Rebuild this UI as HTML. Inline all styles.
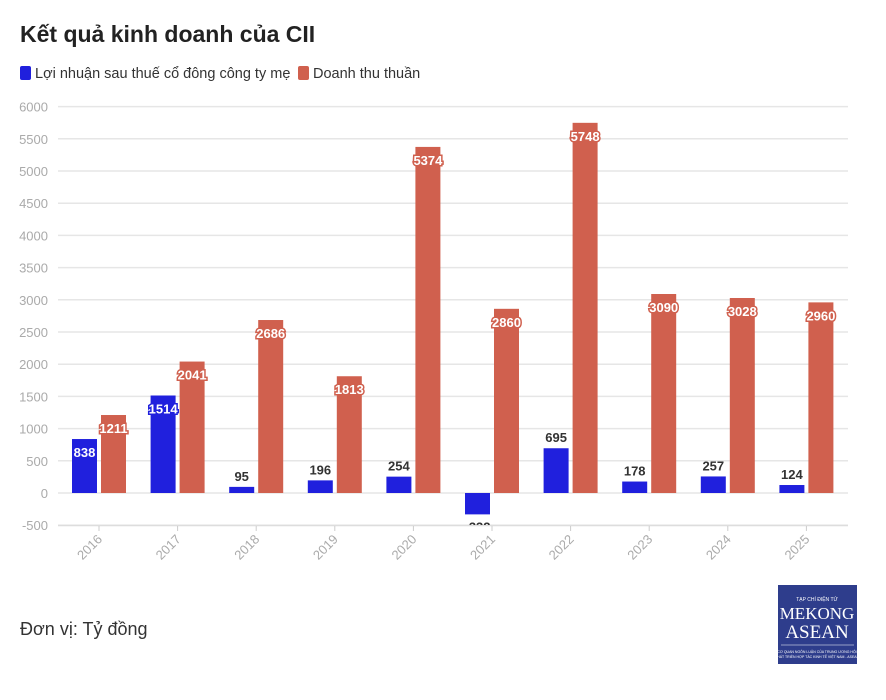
<!DOCTYPE html>
<html><head><meta charset="utf-8"><style>
body{margin:0;background:#fff;width:886px;height:695px;overflow:hidden;font-family:"Liberation Sans","Noto Sans CJK SC",sans-serif;}
svg text{font-family:"Liberation Sans","Noto Sans CJK SC",sans-serif;}
svg text.serif{font-family:"Liberation Serif",serif;}
</style></head><body>
<svg width="886" height="695">
<text x="20" y="42" font-size="23" font-weight="bold" fill="#222">Kết quả kinh doanh của CII</text>
<g>
<rect x="20" y="66" width="11" height="14" rx="2" fill="#2020dd"/>
<text x="35" y="78" font-size="14.5" fill="#333">Lợi nhuận sau thuế cổ đông công ty mẹ</text>
<rect x="298" y="66" width="11" height="14" rx="2" fill="#d0604e"/>
<text x="313" y="78" font-size="14.5" fill="#333">Doanh thu thuần</text>
</g>
<defs><clipPath id="pc"><rect x="58" y="95" width="800" height="430"/></clipPath></defs>
<g id="grid"></g>
<g id="bars" clip-path="url(#pc)"></g>
<g id="labels" clip-path="url(#pc)"></g>
<g id="xl"></g>
<text x="20" y="635" font-size="18" fill="#333">Đơn vị: Tỷ đồng</text>
<g>
<rect x="778" y="585" width="79" height="79" fill="#2e3d8c"/>
<text x="817" y="601" font-size="5" fill="#fff" text-anchor="middle">TẠP CHÍ ĐIỆN TỬ</text>
<text class="serif" x="817" y="619" font-size="17" fill="#fff" text-anchor="middle">MEKONG</text>
<text class="serif" x="817" y="638" font-size="19" fill="#fff" text-anchor="middle">ASEAN</text>
<line x1="781" y1="645" x2="854" y2="645" stroke="#fff" stroke-width="0.6"/>
<text x="817" y="653" font-size="3.5" fill="#fff" text-anchor="middle">CƠ QUAN NGÔN LUẬN CỦA TRUNG ƯƠNG HỘI</text>
<text x="817" y="658" font-size="3.5" fill="#fff" text-anchor="middle">PHÁT TRIỂN HỢP TÁC KINH TẾ VIỆT NAM - ASEAN</text>
</g>
</svg>
<script>
const categories=["2016","2017","2018","2019","2020","2021","2022","2023","2024","2025"];
const profit=[838,1514,95,196,254,-332,695,178,257,124];
const revenue=[1211,2041,2686,1813,5374,2860,5748,3090,3028,2960];
const yTicks=[-500,0,500,1000,1500,2000,2500,3000,3500,4000,4500,5000,5500,6000];
const NS="http://www.w3.org/2000/svg";
const y=v=>493-v*(386.4/6000);
const xc=i=>99+i*78.6;
function mk(tag,attrs,parent,txt){const e=document.createElementNS(NS,tag);for(const k in attrs)e.setAttribute(k,attrs[k]);if(txt!==undefined)e.textContent=txt;parent.appendChild(e);return e;}
const grid=document.getElementById('grid'),bars=document.getElementById('bars'),labels=document.getElementById('labels'),xl=document.getElementById('xl');
yTicks.forEach(t=>{
 const l=mk('line',{x1:58,x2:848,y1:y(t),y2:y(t),stroke:'#e6e6e6','stroke-width':1.5},grid);
 
 
 const tx=mk('text',{x:48,y:y(t)+5,'font-size':13,fill:'#aaa','text-anchor':'end'},grid,String(t));
 
 
});
mk('line',{x1:58,x2:848,y1:525.5,y2:525.5,stroke:'#ddd','stroke-width':1.5},grid);
function lab(x,v,val,color){
 const inside=(493-v)>50 && val>0;
 let t;
 if(inside){
  t=mk('text',{x:x,y:v+18,'font-size':13,'font-weight':'bold',fill:'#fff',stroke:color,'stroke-width':3,'paint-order':'stroke','text-anchor':'middle'},labels,String(val));
 } else if(val<0){
  t=mk('text',{x:x,y:v+17,'font-size':13,'font-weight':'bold',fill:'#333','text-anchor':'middle'},labels,String(val));
 } else {
  t=mk('text',{x:x,y:v-6,'font-size':13,'font-weight':'bold',fill:'#333','text-anchor':'middle'},labels,String(val));
 }
 
 
}
categories.forEach((c,i)=>{
 const cx=xc(i);
 const p=profit[i],r=revenue[i];
 const b=mk('rect',{x:cx-27,width:25,y:Math.min(y(p),y(0)),height:Math.abs(y(p)-y(0)),fill:'#2020dd'},bars);
 
 
 const rb=mk('rect',{x:cx+2,width:25,y:y(r),height:y(0)-y(r),fill:'#d0604e'},bars);
 
 
 lab(cx-14.5,y(p),p,'#2020dd');
 lab(cx+14.5,y(r),r,'#d0604e');
 mk('line',{x1:cx,x2:cx,y1:526,y2:531,stroke:'#ccc'},xl);
 const t=mk('text',{x:cx+4,y:540,'font-size':13,fill:'#aaa','text-anchor':'end',transform:`rotate(-45 ${cx+4} 540)`},xl,c);
 
 
});
</script>
</body></html>
